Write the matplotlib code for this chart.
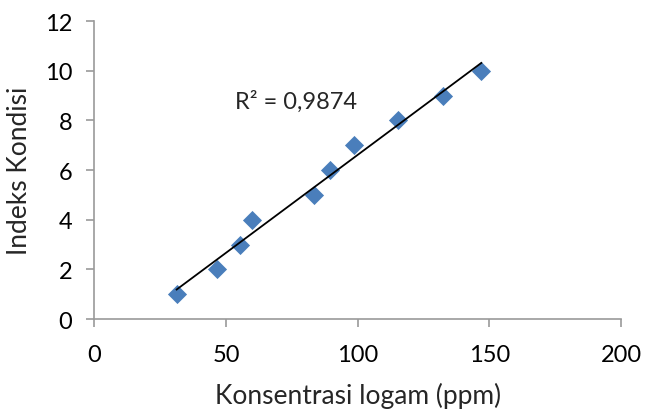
import numpy as np
import matplotlib
matplotlib.use('Agg')
import matplotlib.pyplot as plt

# Data
konsentrasi = [31.2, 46.4, 55.2, 59.9, 83.4, 89.6, 98.5, 115.3, 132.4, 146.9]
indeks = [1, 2, 3, 4, 5, 6, 7, 8, 9, 10]
r2_label = 'R² = 0,9874'
x_ticks = [0, 50, 100, 150, 200]
y_ticks = [0, 2, 4, 6, 8, 10, 12]

plt.rcParams['font.family'] = ['Lato', 'DejaVu Sans']

fig = plt.figure(figsize=(6.45, 4.10), dpi=100)
ax = fig.add_axes([0.1465, 0.2195, 0.8165, 0.7268])

ax.scatter(konsentrasi, indeks, marker='D', s=95, color='#4a7ebb', zorder=3, linewidths=0)

# linear trendline over the data range
slope, intercept = np.polyfit(konsentrasi, indeks, 1)
xs = np.array([min(konsentrasi), max(konsentrasi)])
ax.plot(xs, slope * xs + intercept, color='black', lw=1.3, zorder=4)

ax.text(76.7, 8.78, r2_label, fontsize=17, color='#262626', ha='center', va='center')

ax.set_xlim(0, 200)
ax.set_ylim(0, 12)
ax.set_xticks(x_ticks)
ax.set_yticks(y_ticks)

for s in ['top', 'right']:
    ax.spines[s].set_visible(False)
for s in ['left', 'bottom']:
    ax.spines[s].set_color('#9a9a9a')
    ax.spines[s].set_linewidth(1.2)
ax.tick_params(axis='both', direction='out', length=6, width=1.2, color='#9a9a9a',
               labelsize=17, labelcolor='black')
ax.tick_params(axis='x', pad=12)
ax.tick_params(axis='y', pad=10)

ax.set_xlabel('Konsentrasi logam (ppm)', fontsize=19, labelpad=12, color='#262626')
ax.set_ylabel('Indeks Kondisi', fontsize=19, labelpad=9, color='#262626')

fig.savefig('out.png', dpi=100)
